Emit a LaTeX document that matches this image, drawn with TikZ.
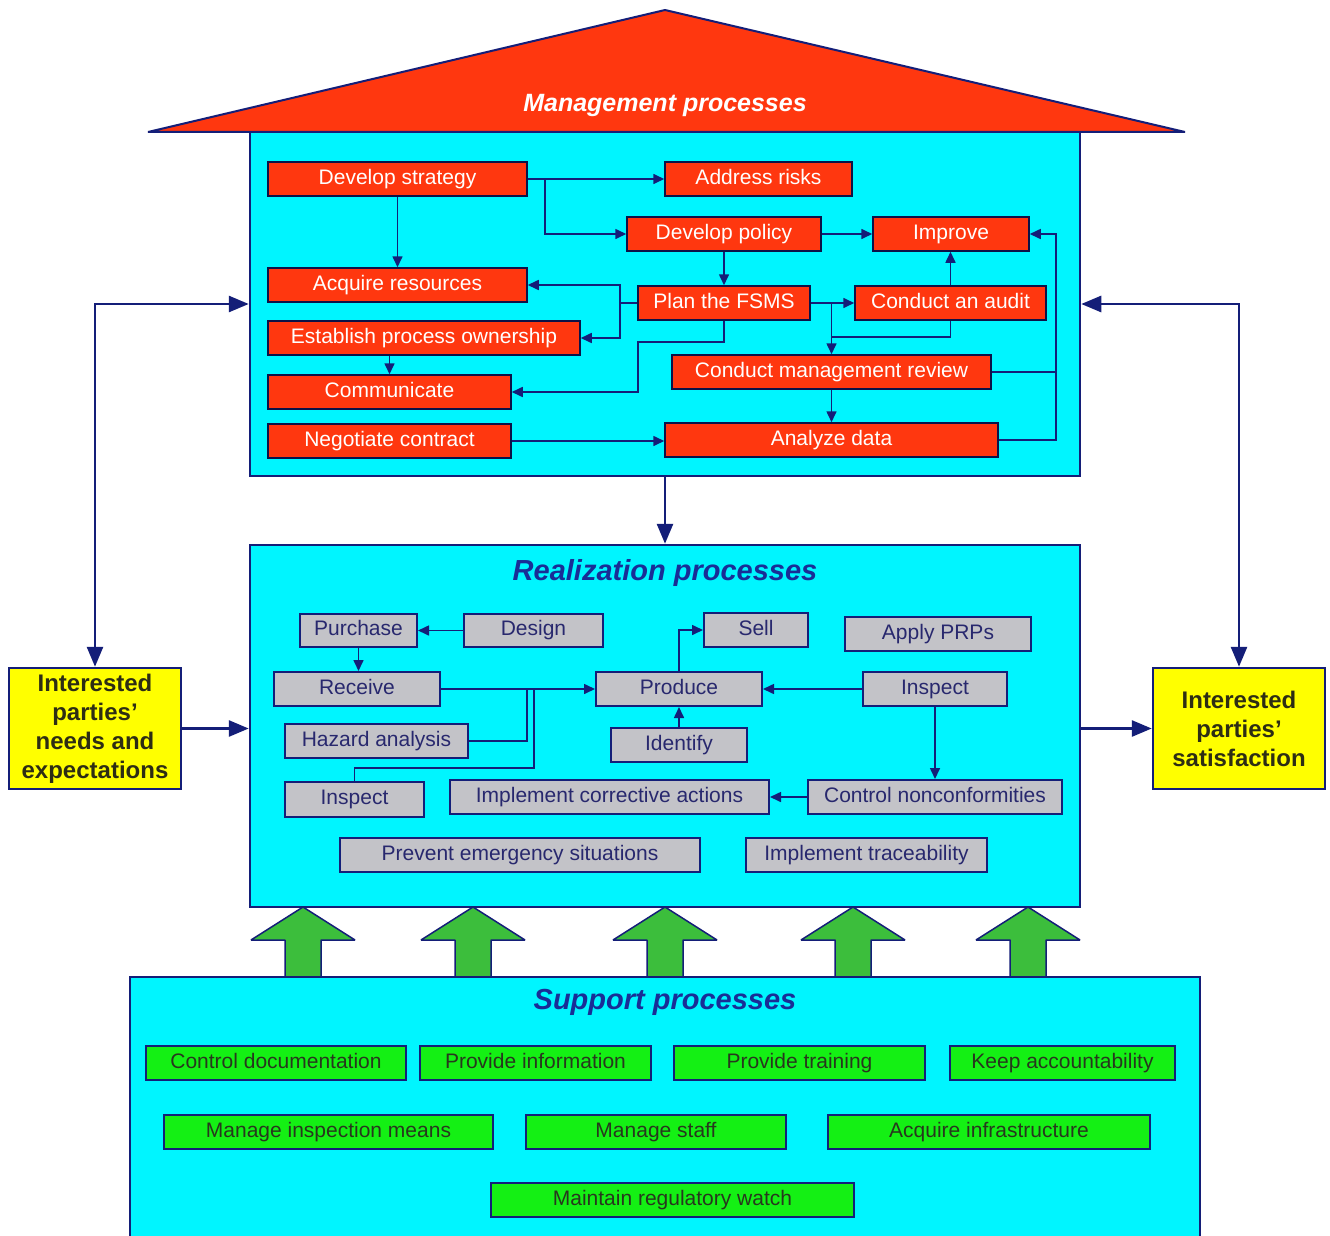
\documentclass[tikz,border=0pt]{standalone}
\usepackage{fontspec}
\setmainfont{Liberation Sans}
\usetikzlibrary{arrows.meta}
\definecolor{cyanfill}{RGB}{0,245,255}
\definecolor{navyline}{RGB}{20,30,120}
\definecolor{redfill}{RGB}{255,55,15}
\definecolor{grayfill}{RGB}{195,195,200}
\definecolor{greenbox}{RGB}{20,240,20}
\definecolor{greenarrow}{RGB}{60,190,60}
\definecolor{yellowfill}{RGB}{255,255,0}
\definecolor{titleblue}{RGB}{25,45,150}
\definecolor{graytext}{RGB}{40,40,110}
\definecolor{greentext}{RGB}{40,55,30}
\definecolor{yellowtext}{RGB}{45,45,20}
\tikzset{
  sz/.style 2 args={minimum width=#1pt, minimum height=#2pt},
  bigbox/.style={draw=navyline, line width=2.5pt, fill=cyanfill, inner sep=0pt},
  boxtext/.style={inner sep=0pt, font=\fontsize{21}{25}\selectfont, text height=15pt, text depth=4.5pt},
  redbox/.style={boxtext, draw=navyline!60!black, line width=1.5pt, fill=redfill, text=white},
  graybox/.style={boxtext, draw=navyline, line width=2pt, fill=grayfill, text=graytext},
  greenbx/.style={boxtext, draw=navyline, line width=2pt, fill=greenbox, text=greentext},
  ybox/.style={draw=navyline, line width=2.5pt, fill=yellowfill, text=yellowtext, align=center,
    font=\fontsize{24}{29}\selectfont\bfseries, inner sep=0pt},
  conn/.style={draw=navyline, line width=1.6pt, -{Triangle[length=11pt,width=10pt]}},
  plain/.style={draw=navyline, line width=1.6pt},
  bigconn/.style={draw=navyline, line width=2.8pt, {Triangle[length=20pt,width=16pt]}-{Triangle[length=20pt,width=16pt]}},
  bigone/.style={draw=navyline, line width=2.8pt, -{Triangle[length=20pt,width=16pt]}},
  title/.style={font=\fontsize{29}{34}\selectfont\bfseries\itshape, text=titleblue, inner sep=0pt},
  garrow/.style={fill=greenarrow, draw=navyline, line width=1.5pt, line join=bevel},
}
\begin{document}
\begin{tikzpicture}[x=1pt,y=-1pt]
\useasboundingbox (0,0) rectangle (1330,1236);
\fill[white] (0,0) rectangle (1330,1236);

% roof
\draw[fill=redfill, draw=navyline, line width=2pt, line join=bevel] (148,132) -- (665,10) -- (1185,132) -- cycle;
\node[font=\fontsize{25}{30}\selectfont\bfseries\itshape, text=white, inner sep=0pt] (mt) at (665,105) {Management processes};

% big boxes
\node[bigbox, sz={830}{344}] (mgmt) at (665,304) {};
\node[bigbox, sz={830}{362}] (real) at (665,726) {};

% green block arrows
\foreach \cx in {303,473,665,853,1028} {
  \draw[garrow] (\cx,907) -- (\cx+52,940) -- (\cx+18,940) -- (\cx+18,982) -- (\cx-18,982) -- (\cx-18,940) -- (\cx-52,940) -- cycle;
}
\node[bigbox, sz={1070}{268}] (supp) at (665,1111) {};

% titles
\node[title] (rt) at (665,573) {Realization processes};
\node[title] (st) at (665,1002) {Support processes};

% management boxes
\node[redbox, sz={259}{34}] (ds) at (397.5,179) {Develop strategy};
\node[redbox, sz={187}{34}] (ar) at (758.5,179) {Address risks};
\node[redbox, sz={194}{34}] (dp) at (724,234) {Develop policy};
\node[redbox, sz={156}{34}] (im) at (951,234) {Improve};
\node[redbox, sz={259}{34}] (acq) at (397.5,285) {Acquire resources};
\node[redbox, sz={172}{34}] (pf) at (724,303) {Plan the FSMS};
\node[redbox, sz={191}{34}] (ca) at (950.5,303) {Conduct an audit};
\node[redbox, sz={312}{34}] (ep) at (424,338) {Establish process ownership};
\node[redbox, sz={319}{34}] (cmr) at (831.5,372) {Conduct management review};
\node[redbox, sz={243}{34}] (cm) at (389.5,392) {Communicate};
\node[redbox, sz={243}{34}] (nc) at (389.5,441) {Negotiate contract};
\node[redbox, sz={333}{34}] (ad) at (831.5,440) {Analyze data};

% management connectors
\draw[conn] (ds.east) -- (ar.west);
\coordinate (j1) at (545,179);
\draw[conn] (j1) |- (dp.west);
\draw[conn] (ds.south) -- (acq.north);
\draw[conn] (dp.east) -- (im.west);
\draw[conn] (dp.south) -- (pf.north);
\coordinate (j2) at (620,303);
\draw[conn] (pf.west) -- (j2) |- (acq.east);
\draw[conn] (j2) |- (ep.east);
\coordinate (j3) at (638,342);
\draw[conn] (pf.south) |- (j3) |- (cm.east);
\draw[conn] (cm.north |- ep.south) -- (cm.north);
\draw[conn] (pf.east) -- (ca.west);
\coordinate (j4) at (831.5,303);
\draw[conn] (j4) -- (cmr.north);
\coordinate (j5) at (831.5,337);
\draw[plain] (ca.south) |- (j5);
\draw[conn] (ca.north) -- (ca.north |- im.south);
\draw[conn] (cmr.south) -- (ad.north);
\coordinate (j6) at (1056,372);
\coordinate (j7) at (1056,234);
\draw[plain] (cmr.east) -- (j6);
\draw[conn] (ad.east) -| (j7) -- (im.east);
\draw[conn] (nc.east) -- (nc.east -| ad.west);

% realization boxes
\node[graybox, sz={117}{33}] (pu) at (358.5,630.5) {Purchase};
\node[graybox, sz={139}{33}] (de) at (533.5,630.5) {Design};
\node[graybox, sz={104}{34}] (se) at (756,630) {Sell};
\node[graybox, sz={186}{34}] (ap) at (938,634) {Apply PRPs};
\node[graybox, sz={166}{34}] (re) at (357,689) {Receive};
\node[graybox, sz={166}{34}] (pr) at (679,689) {Produce};
\node[graybox, sz={144}{34}] (ir) at (935,689) {Inspect};
\node[graybox, sz={183}{34}] (ha) at (376.5,741) {Hazard analysis};
\node[graybox, sz={136}{34}] (id) at (679,745) {Identify};
\node[graybox, sz={139}{35}] (il) at (354.5,799.5) {Inspect};
\node[graybox, sz={319}{34}] (ic) at (609.5,797) {Implement corrective actions};
\node[graybox, sz={254}{34}] (cn) at (935,797) {Control nonconformities};
\node[graybox, sz={360}{34}] (pe) at (520,855) {Prevent emergency situations};
\node[graybox, sz={241}{34}] (it) at (866.5,855) {Implement traceability};

% realization connectors
\draw[conn] (de.west) -- (pu.east);
\draw[conn] (pu.south) -- (pu.south |- re.north);
\draw[conn] (re.east) -- (pr.west);
\coordinate (k1) at (527,689);
\draw[plain] (ha.east) -| (k1);
\coordinate (k2) at (534,768);
\coordinate (k3) at (534,689);
\draw[plain] (il.north) |- (k2) -- (k3);
\draw[conn] (pr.north) |- (se.west);
\draw[conn] (id.north) -- (pr.south);
\draw[conn] (ir.west) -- (pr.east);
\draw[conn] (ir.south) -- (cn.north);
\draw[conn] (cn.west) -- (ic.east);

% support boxes
\node[greenbx, sz={260}{34}] (g1) at (276,1063) {Control documentation};
\node[greenbx, sz={231}{34}] (g2) at (535.5,1063) {Provide information};
\node[greenbx, sz={251}{34}] (g3) at (799.5,1063) {Provide training};
\node[greenbx, sz={225}{34}] (g4) at (1062.5,1063) {Keep accountability};
\node[greenbx, sz={329}{34}] (g5) at (328.5,1132) {Manage inspection means};
\node[greenbx, sz={260}{34}] (g6) at (656,1132) {Manage staff};
\node[greenbx, sz={322}{34}] (g7) at (989,1132) {Acquire infrastructure};
\node[greenbx, sz={363}{34}] (g8) at (672.5,1200) {Maintain regulatory watch};

% interested parties
\node[ybox, sz={172}{121}] (yl) at (95,728.5) {Interested\\parties’\\needs and\\expectations};
\node[ybox, sz={172}{121}] (yr) at (1239,728.5) {Interested\\parties’\\satisfaction};

% big connectors
\draw[bigconn] (yl.north) |- (mgmt.west);
\draw[bigconn] (yr.north) |- (mgmt.east);
\draw[bigone] (yl.east) -- (yl.east -| real.west);
\draw[bigone] (yr.west -| real.east) -- (yr.west);
\draw[bigone] (mgmt.south) -- (real.north);
\end{tikzpicture}
\end{document}
